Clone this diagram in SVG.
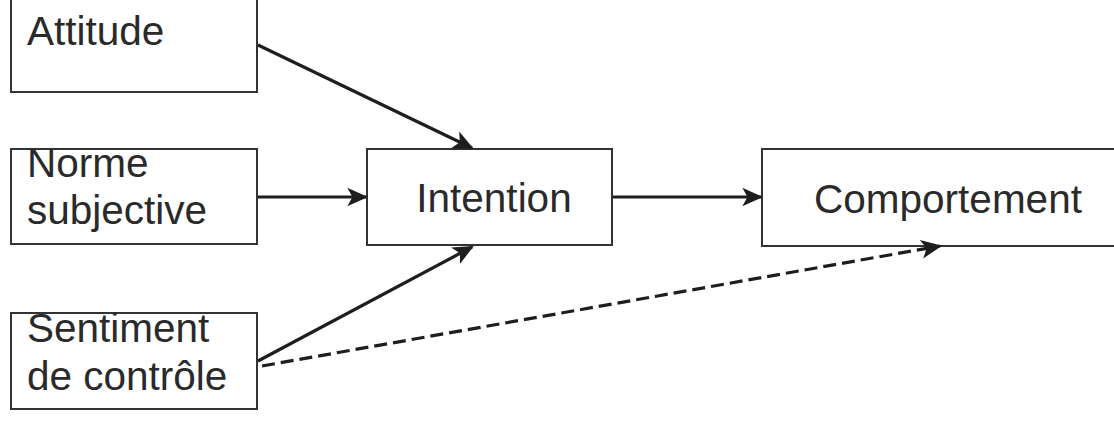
<svg xmlns="http://www.w3.org/2000/svg" width="1114" height="422" viewBox="0 0 1114 422">
<defs>
<style>
.box{fill:#fff;stroke:#333;stroke-width:2}
.t{font-family:"Liberation Sans",Arial,sans-serif;font-size:40.5px;fill:#2a2a2a}
.c{fill:none;stroke:#1e1e1e;stroke-width:3.2}
.d{stroke-dasharray:13 6}
</style>
<marker id="ah" viewBox="0 0 10 10" refX="9" refY="5" markerWidth="6.5" markerHeight="6.5" markerUnits="strokeWidth" orient="auto">
<path d="M0,0.5 L10,5 L0,9.5 L2.5,5 Z" fill="#1e1e1e"/>
</marker>
</defs>
<rect width="1114" height="422" fill="#fff"/>
<g id="attitude"><rect class="box" x="11" y="-5" width="246" height="97"/><text class="t" x="27" y="45">Attitude</text></g>
<g id="norme"><rect class="box" x="11" y="149" width="246" height="95"/><text class="t" x="27" y="177">Norme</text><text class="t" x="27" y="224">subjective</text></g>
<g id="sentiment"><rect class="box" x="11" y="313" width="246" height="96"/><text class="t" x="27" y="342">Sentiment</text><text class="t" x="27" y="390">de contrôle</text></g>
<g id="intention"><rect class="box" x="367" y="149" width="245" height="96"/><text class="t" x="494" y="212" text-anchor="middle">Intention</text></g>
<g id="comportement"><rect class="box" x="762" y="149" width="360" height="97"/><text class="t" x="948" y="213" text-anchor="middle">Comportement</text></g>
<g id="connectors">
<line class="c" x1="258" y1="45" x2="472" y2="148" marker-end="url(#ah)"/>
<line class="c" x1="258" y1="197" x2="366" y2="197" marker-end="url(#ah)"/>
<line class="c" x1="258" y1="361" x2="472" y2="247" marker-end="url(#ah)"/>
<line class="c" x1="613" y1="197" x2="761" y2="197" marker-end="url(#ah)"/>
<line class="c d" x1="262" y1="366" x2="940" y2="246" marker-end="url(#ah)"/>
</g>
</svg>
